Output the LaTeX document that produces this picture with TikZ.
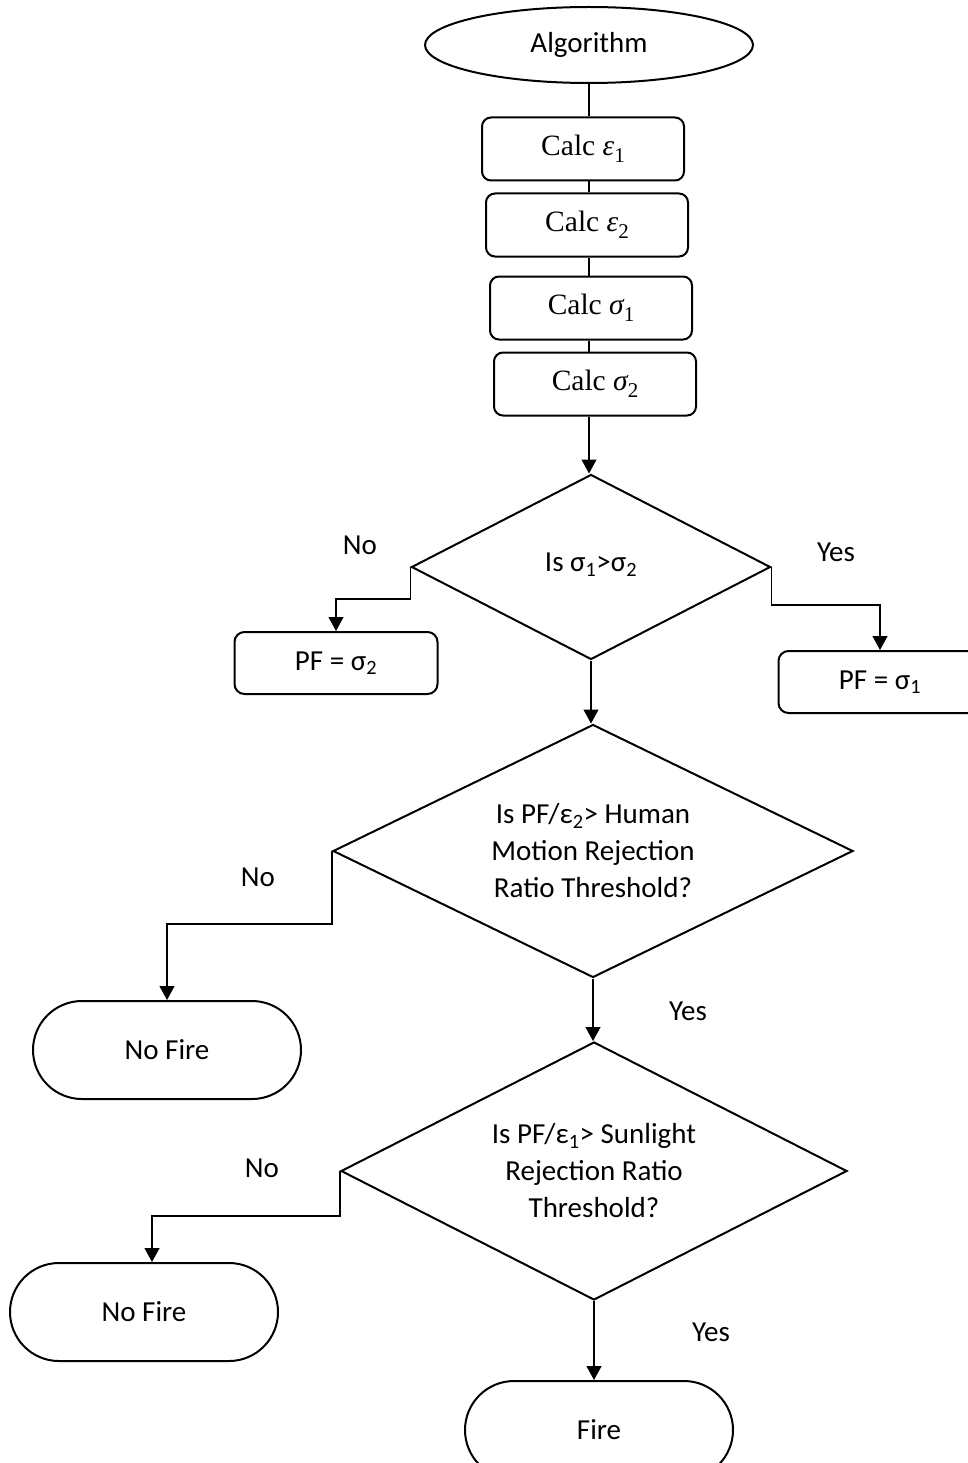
\documentclass[tikz,border=0pt]{standalone}
\usepackage{fontspec}
\setsansfont{Carlito}
\newfontfamily\calcfont{Liberation Serif}
\usepackage{tikz}
\usetikzlibrary{shapes.geometric, arrows.meta, positioning, calc}
\newcommand{\flowfont}{\sffamily\fontsize{29}{37}\selectfont}
\newcommand{\calcsym}[2]{{\itshape #1}\raisebox{-0.22em}{\fontsize{21}{21}\selectfont #2}}
\tikzset{
  startnode/.style={ellipse, draw=black, line width=2pt,
    minimum width=328pt, minimum height=76pt, font=\flowfont},
  calcbox/.style={rectangle, draw=black, rounded corners=9pt, line width=2pt,
    minimum width=202pt, minimum height=63pt, font=\calcfont\fontsize{29.5}{34}\selectfont},
  decision/.style={diamond, draw=black, line width=2pt, aspect=2,
    inner sep=0pt, align=center, font=\flowfont},
  pfbox/.style={rectangle, draw=black, rounded corners=10pt, line width=2pt,
    minimum width=203pt, minimum height=62pt, font=\flowfont},
  terminal/.style={rectangle, draw=black, rounded corners=49pt, line width=2pt,
    minimum width=268pt, minimum height=98pt, font=\flowfont},
  arrow/.style={-{Triangle[width=15pt,length=14pt]}, line width=1.2pt},
  line/.style={line width=1.2pt},
  lbl/.style={font=\flowfont}
}
\begin{document}
\begin{tikzpicture}[x=1pt, y=-1pt]
  \useasboundingbox (0,0) rectangle (968,1463);
  % top chain
  \node[startnode] (alg) at (589,45) {Algorithm};
  \node[calcbox] (eps1) at (583,149) {Calc \calcsym{ε}{1}};
  \node[calcbox] (eps2) at (587,225) {Calc \calcsym{ε}{2}};
  \node[calcbox] (sig1) at (591,308) {Calc \calcsym{σ}{1}};
  \node[calcbox] (sig2) at (595,384) {Calc \calcsym{σ}{2}};
  \coordinate (spine) at (589,0);
  % decisions
  \node[decision, minimum width=359pt, minimum height=185pt] (cmp) at (591,567) {\raisebox{0.3em}{Is σ\textsubscript{1}>σ\textsubscript{2}}};
  \node[pfbox] (pf2) at (336,663) {PF = σ\textsubscript{2}};
  \node[pfbox] (pf1) at (880,682) {PF = σ\textsubscript{1}};
  \node[decision, minimum width=520pt, minimum height=253pt] (human) at (593,851) {Is PF/ε\textsubscript{2}> Human\\Motion Rejection\\Ratio Threshold?};
  \node[terminal] (nofireA) at (167,1050) {No Fire};
  \node[decision, minimum width=506pt, minimum height=258pt] (sun) at (594,1171) {Is PF/ε\textsubscript{1}> Sunlight\\Rejection Ratio\\Threshold?};
  \node[terminal] (nofireB) at (144,1312) {No Fire};
  \node[terminal] (fire) at (599,1430) {Fire};
  % connectors
  \draw[line] (alg.south) -- (spine |- eps1.north);
  \draw[line] (spine |- eps1.south) -- (spine |- eps2.north);
  \draw[line] (spine |- eps2.south) -- (spine |- sig1.north);
  \draw[line] (spine |- sig1.south) -- (spine |- sig2.north);
  \draw[arrow] (spine |- sig2.south) -- (spine |- cmp.north);
  \draw[arrow] (cmp.west) -- ++(0,32) -| (pf2.north);
  \draw[arrow] (cmp.east) -- ++(0,38) -| (pf1.north);
  \draw[arrow] (cmp.south) -- (cmp.south |- human.north);
  \draw[arrow] (human.west) -- ++(0,73) -| (nofireA.north);
  \draw[arrow] (human.south) -- (human.south |- sun.north);
  \draw[arrow] (sun.west) -- ++(0,45) -| ($(nofireB.north)+(8,0)$);
  \draw[arrow] (sun.south) -- (sun.south |- fire.north);
  % branch labels
  \node[lbl] (noA) at (360,545) {No};
  \node[lbl] (yesA) at (836,552) {Yes};
  \node[lbl] (noB) at (258,877) {No};
  \node[lbl] (yesB) at (688,1011) {Yes};
  \node[lbl] (noC) at (262,1168) {No};
  \node[lbl] (yesC) at (711,1332) {Yes};
\end{tikzpicture}
\end{document}
